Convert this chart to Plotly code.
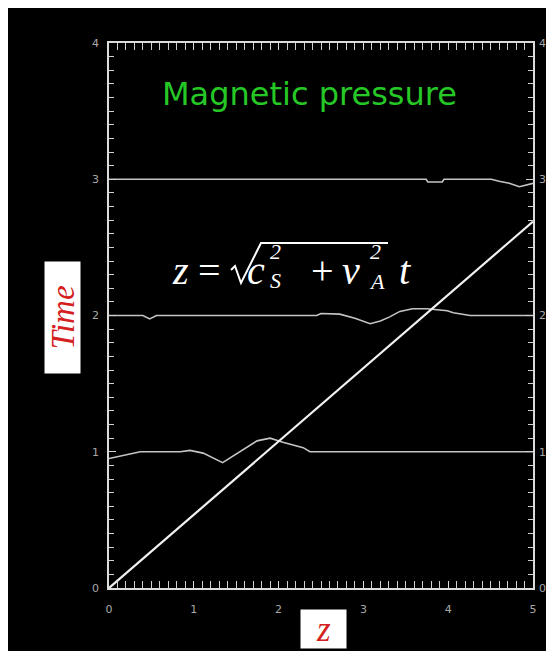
import plotly.graph_objects as go

# ---- data ----
z_front = [0.0, 5.0]
t_front = [0.0, 2.69]

z_p1 = [0.0, 0.165, 0.37, 0.84, 0.955, 1.11, 1.34, 1.745, 1.90, 2.05, 2.29, 2.37, 5.0]
t_p1 = [0.95, 0.97, 1.0, 1.0, 1.01, 0.99, 0.92, 1.08, 1.10, 1.07, 1.03, 1.0, 1.0]

z_p2 = [0.0, 0.40, 0.48, 0.56, 2.45, 2.50, 2.72, 2.90, 3.08, 3.20, 3.31, 3.43, 3.58, 3.75, 3.99, 4.06, 4.26, 5.0]
t_p2 = [2.0, 2.0, 1.975, 2.0, 2.0, 2.015, 2.01, 1.98, 1.94, 1.96, 1.99, 2.03, 2.05, 2.05, 2.035, 2.02, 2.0, 2.0]

z_p3 = [0.0, 3.74, 3.76, 3.93, 3.95, 4.51, 4.60, 4.72, 4.84, 4.90, 5.0]
t_p3 = [3.0, 3.0, 2.98, 2.98, 3.0, 3.0, 2.985, 2.97, 2.945, 2.955, 2.97]

x_ticks = [0, 1, 2, 3, 4, 5]
y_ticks = [0, 1, 2, 3, 4]

title_text = "Magnetic pressure"
x_label = "z"
y_label = "Time"

# ---- layout geometry (page pixels; the page body adds an 8px offset) ----
OFF = 8
W, H = 554, 651
L, R, T, B = 109, 533, 43, 588


def px(x):
    return (x - L) / (R - L)


def py(y):
    return (B - y) / (B - T)


fig = go.Figure()
for z, t in [(z_p1, t_p1), (z_p2, t_p2), (z_p3, t_p3)]:
    fig.add_trace(go.Scatter(x=z, y=t, mode="lines",
                             line=dict(color="#c4c4c4", width=1.6),
                             showlegend=False, hoverinfo="skip"))
fig.add_trace(go.Scatter(x=z_front, y=t_front, mode="lines",
                         line=dict(color="#f2f2f2", width=2.2),
                         showlegend=False, hoverinfo="skip"))
for ax in ["y2", "y3"]:
    fig.add_trace(go.Scatter(x=[0], y=[0], yaxis=ax, mode="markers",
                             marker=dict(opacity=0), showlegend=False, hoverinfo="skip"))

tickfont = dict(family="DejaVu Sans", size=11, color="#a8a8a8")
common = dict(showgrid=False, zeroline=False, showline=True, linecolor="#dcdcdc",
              linewidth=1.5, ticks="inside", ticklen=7, tickwidth=1.3,
              tickcolor="#dcdcdc", tickfont=tickfont, mirror="allticks")

fig.update_layout(
    width=W, height=H,
    margin=dict(l=L - OFF, r=W - (R - OFF), t=T - OFF, b=H - (B - OFF), pad=0),
    paper_bgcolor="black", plot_bgcolor="black",
    showlegend=False,
    xaxis=dict(range=[0, 5], tickvals=x_ticks, ticklabelstandoff=10,
               minor=dict(ticks="inside", ticklen=4, dtick=0.1,
                          tickcolor="#d0d0d0", tickwidth=1.1),
               **common),
    yaxis=dict(range=[0, 4], tickvals=y_ticks, ticklabelstandoff=6,
               minor=dict(ticks="inside", ticklen=5, dtick=0.1,
                          tickcolor="#d0d0d0", tickwidth=1.3),
               **common),
    yaxis2=dict(range=[0, 4], tickvals=y_ticks, overlaying="y", side="right",
                showgrid=False, zeroline=False, showline=False, ticks="",
                tickfont=tickfont, ticklabelstandoff=5),
    # minor ticks of the vertical axis (both sides)
    yaxis3=dict(range=[0, 4], tickmode="linear", tick0=0, dtick=0.1,
                overlaying="y", side="left", showgrid=False, zeroline=False,
                showline=False, showticklabels=False, ticks="inside",
                ticklen=5, tickwidth=1.3, tickcolor="#d0d0d0", mirror="allticks"),
)

annotations = []
annotations.append(dict(text=title_text, x=px(309.5), y=py(94), xref="paper", yref="paper",
                        showarrow=False, xanchor="center", yanchor="middle",
                        font=dict(family="DejaVu Sans", size=32, color="#26c826")))

# axis labels in white boxes
annotations.append(dict(text="<i>" + y_label + "</i>", x=px(62.5), y=py(317.5),
                        xref="paper", yref="paper", showarrow=False, textangle=-90,
                        xanchor="center", yanchor="middle", width=111, height=35,
                        bgcolor="white", borderpad=0,
                        font=dict(family="Liberation Serif", size=33, color="#d42020")))
annotations.append(dict(text="<i>" + x_label + "</i>", x=px(323.5), y=py(629),
                        xref="paper", yref="paper", showarrow=False,
                        xanchor="center", yanchor="middle", width=45, height=38,
                        bgcolor="white", borderpad=0,
                        font=dict(family="Liberation Serif", size=35, color="#d42020")))

# formula z = sqrt(c_S^2 + v_A^2) t
main_font = dict(family="Liberation Serif", size=40, color="white")
small_font = dict(family="Liberation Serif", size=22, color="white")
pieces = [
    ("<i>z</i>", 180, 270, main_font),
    ("=", 209, 270, main_font),
    ("<i>c</i>", 256, 270, main_font),
    ("+", 322, 270, main_font),
    ("<i>v</i>", 351, 270, main_font),
    ("<i>t</i>", 405, 270, main_font),
    ("<i>2</i>", 275, 252, small_font),
    ("<i>S</i>", 275, 280, small_font),
    ("<i>2</i>", 375, 251, small_font),
    ("<i>A</i>", 377, 281, small_font),
]
for txt, x, y, f in pieces:
    annotations.append(dict(text=txt, x=px(x), y=py(y), xref="paper", yref="paper",
                            showarrow=False, xanchor="center", yanchor="middle", font=f))
fig.update_layout(annotations=annotations)

# radical sign with overline
rad = [(231, 270), (235, 266), (241, 283), (261, 243), (388, 243)]
path = "M " + " L ".join(f"{px(a):.5f},{py(b):.5f}" for a, b in rad)
fig.add_shape(type="path", xref="paper", yref="paper", path=path,
              line=dict(color="white", width=2))

fig.write_html("out.html")
